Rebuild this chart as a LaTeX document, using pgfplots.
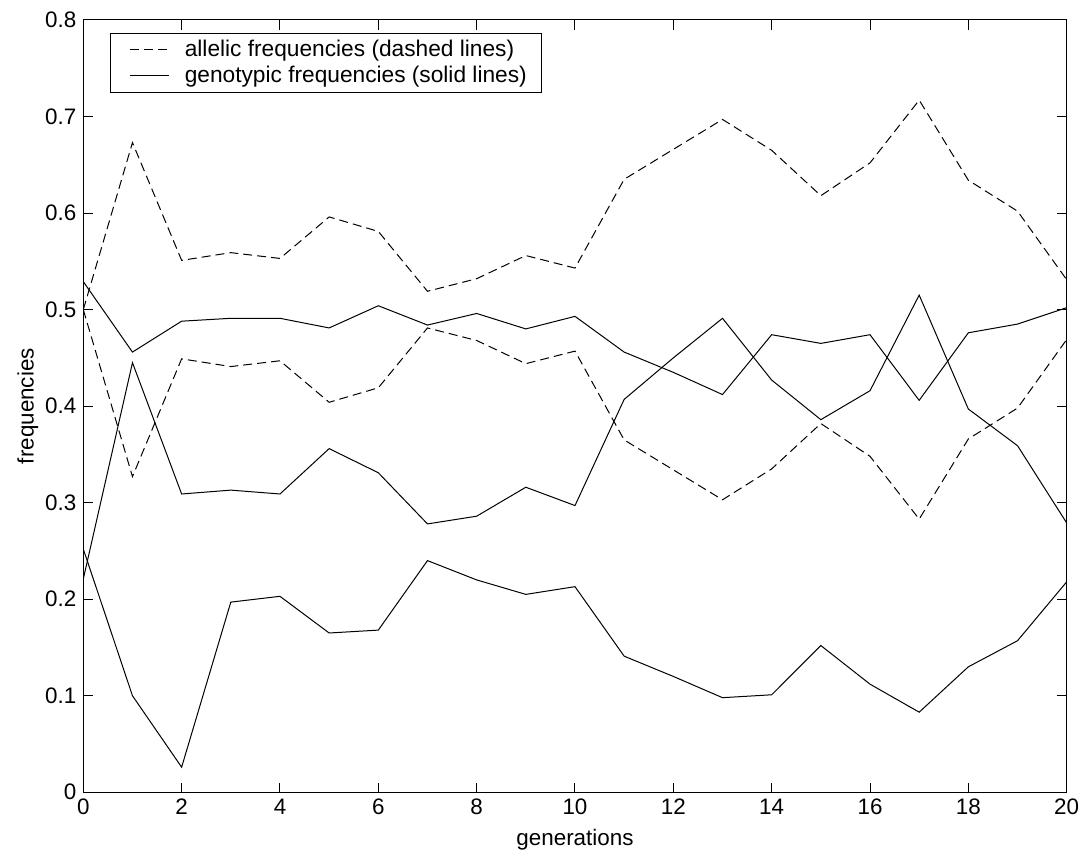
\documentclass[border=0pt]{standalone}
\usepackage{fontspec}
\setmainfont{Liberation Sans}
\usepackage{pgfplots}
\pgfplotsset{compat=1.18}
\newcommand{\ffont}{\fontsize{11.2}{13.4}\selectfont}
\newcommand{\lfont}{\fontsize{11.35}{13.4}\selectfont}
\begin{document}
\begin{tikzpicture}
\begin{axis}[
  at={(0,0)}, anchor=south west,
  scale only axis, width=491.7pt, height=386.15pt,
  xmin=0, xmax=20, ymin=0, ymax=0.8,
  xtick={0,2,...,20},
  ytick={0,0.1,0.2,0.3,0.4,0.5,0.6,0.7,0.8},
  yticklabels={0,0.1,0.2,0.3,0.4,0.5,0.6,0.7,0.8},
  xtick pos=both, ytick pos=both,
  tick align=inside,
  major tick length=4.8pt,
  axis line style={line width=0.5pt},
  every tick/.style={black, line width=0.5pt},
  /pgf/number format/assume math mode=true,
  tick label style={font=\ffont},
  label style={font=\ffont},
  xlabel={generations},
  ylabel={frequencies},
  xlabel style={at={(axis description cs:0.5,-0.062)}, anchor=center},
  ylabel style={at={(axis description cs:-0.0565,0.5)}, anchor=center, rotate=0},
  legend style={at={(0.0275,0.9835)}, anchor=north west, draw=black, line width=0.5pt,
    fill=white, font=\lfont, cells={anchor=west}, inner xsep=7.5pt, inner ysep=2pt,
    row sep=0pt, column sep=0pt, nodes={inner xsep=0pt, inner ysep=1.5pt}},
  legend image code/.code={\path[draw=none] (0pt,0pt) -- (29.5pt,0pt); \draw[#1] (2pt,0pt) -- (21.5pt,0pt);},
  every axis plot/.append style={line width=0.5pt, black},
]
% allelic frequencies (dashed)
\addplot[dash pattern=on 4.5pt off 2.5pt] coordinates {
(0,0.500)(1,0.673)(2,0.551)(3,0.559)(4,0.553)(5,0.596)(6,0.581)(7,0.519)(8,0.532)(9,0.556)(10,0.543)
(11,0.635)(12,0.666)(13,0.697)(14,0.665)(15,0.618)(16,0.652)(17,0.717)(18,0.634)(19,0.602)(20,0.531)};
\addlegendentry{allelic frequencies (dashed lines)}
% genotypic (solid) heterozygote
\addplot[solid] coordinates {
(0,0.529)(1,0.456)(2,0.488)(3,0.491)(4,0.491)(5,0.481)(6,0.504)(7,0.484)(8,0.496)(9,0.480)(10,0.493)
(11,0.456)(12,0.435)(13,0.412)(14,0.474)(15,0.465)(16,0.474)(17,0.406)(18,0.476)(19,0.485)(20,0.502)};
\addlegendentry{genotypic frequencies (solid lines)}
\addplot[dash pattern=on 4.5pt off 2.5pt, forget plot] coordinates {
(0,0.500)(1,0.327)(2,0.449)(3,0.441)(4,0.447)(5,0.404)(6,0.419)(7,0.481)(8,0.468)(9,0.444)(10,0.457)
(11,0.365)(12,0.334)(13,0.303)(14,0.335)(15,0.382)(16,0.348)(17,0.283)(18,0.366)(19,0.398)(20,0.469)};
\addplot[solid, forget plot] coordinates {
(0,0.221)(1,0.445)(2,0.309)(3,0.313)(4,0.309)(5,0.356)(6,0.331)(7,0.278)(8,0.286)(9,0.316)(10,0.297)
(11,0.407)(12,0.450)(13,0.491)(14,0.427)(15,0.386)(16,0.416)(17,0.515)(18,0.397)(19,0.359)(20,0.279)};
\addplot[solid, forget plot] coordinates {
(0,0.252)(1,0.100)(2,0.026)(3,0.197)(4,0.203)(5,0.165)(6,0.168)(7,0.240)(8,0.220)(9,0.205)(10,0.213)
(11,0.141)(12,0.120)(13,0.098)(14,0.101)(15,0.152)(16,0.112)(17,0.083)(18,0.130)(19,0.157)(20,0.218)};
\end{axis}
\pgfresetboundingbox
\path (-41.65pt,-31.35pt) rectangle (500.35pt,396.15pt);
\end{tikzpicture}
\end{document}
